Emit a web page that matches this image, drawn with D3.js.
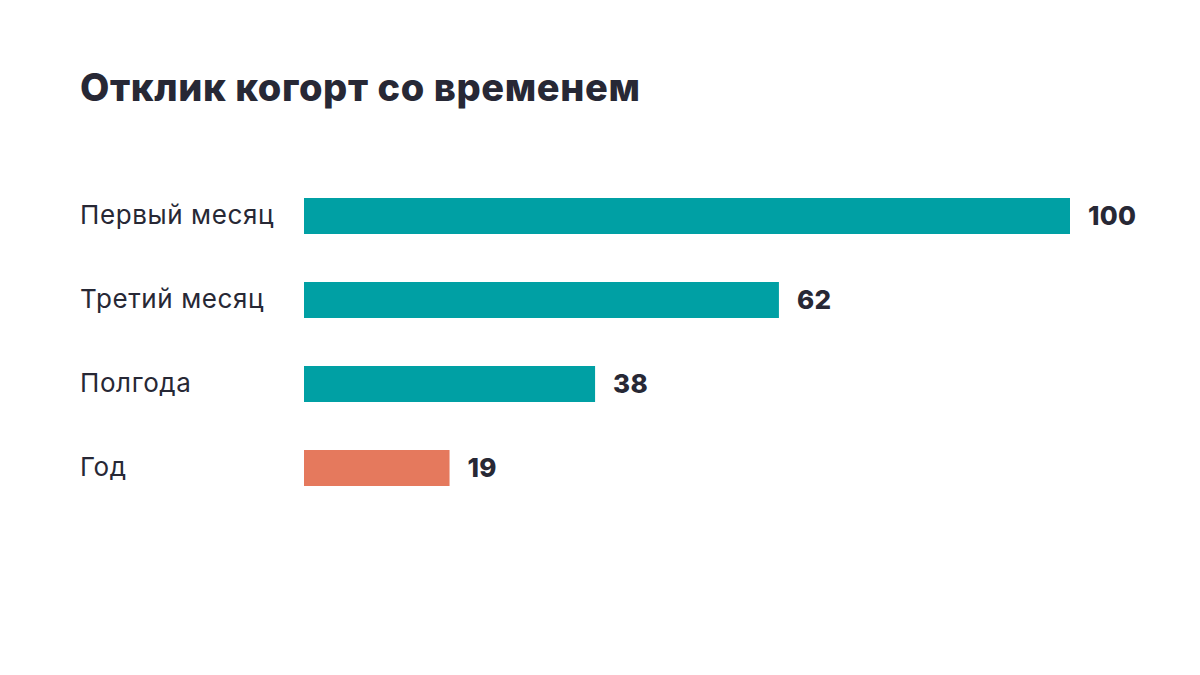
<!DOCTYPE html>
<html>
<head>
<meta charset="utf-8">
<script src="https://cdn.jsdelivr.net/npm/d3@7.9.0/dist/d3.min.js"></script>
<style>
  html, body { margin: 0; padding: 0; background: #fff; }
  svg { display: block; font-family: Inter, "Noto Sans", sans-serif; }
</style>
</head>
<body>
<svg id="chart" width="1200" height="675"></svg>
<script>
const title      = 'Отклик когорт со временем';
const categories = ['Первый месяц', 'Третий месяц', 'Полгода', 'Год'];
const values     = [100, 62, 38, 19];
const highlight  = ['Год'];

const ink   = '#272835';
const teal  = '#00a0a4';
const coral = '#e5795d';

const svg = d3.select('#chart');

const x = d3.scaleLinear().domain([0, 100]).range([304, 1070]);
const y = d3.scaleBand().domain(categories).range([174, 510]).paddingInner(0.5714).paddingOuter(0.2857);

svg.append('text')
   .attr('x', 80).attr('y', 101)
   .attr('fill', ink)
   .attr('font-size', 38).attr('font-weight', 800)
   .attr('letter-spacing', 0.6)
   .text(title);

const rows = svg.selectAll('g.row')
  .data(categories.map((c, i) => ({ label: c, value: values[i] })))
  .enter().append('g').attr('class', 'row');

rows.append('rect')
    .attr('x', x(0))
    .attr('y', d => y(d.label))
    .attr('width', d => x(d.value) - x(0))
    .attr('height', y.bandwidth())
    .attr('fill', d => highlight.includes(d.label) ? coral : teal);

rows.append('text')
    .attr('x', 80)
    .attr('y', d => y(d.label) + y.bandwidth() / 2)
    .attr('dy', '0.32em')
    .attr('fill', ink)
    .attr('font-size', 26)
    .attr('letter-spacing', 0.6)
    .text(d => d.label);

rows.append('text')
    .attr('x', d => x(d.value) + 18)
    .attr('y', d => y(d.label) + y.bandwidth() / 2)
    .attr('dy', '0.34em')
    .attr('fill', ink)
    .attr('font-size', 26).attr('font-weight', 800)
    .attr('letter-spacing', 0.3)
    .text(d => d.value);
</script>
</body>
</html>
